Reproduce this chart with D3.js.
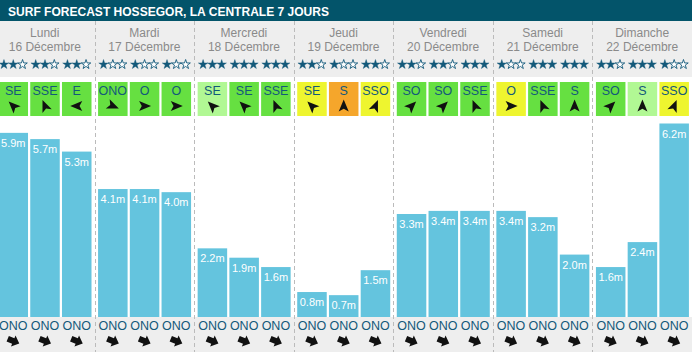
<!DOCTYPE html>
<html>
<head>
<meta charset="utf-8">
<script src="https://cdn.jsdelivr.net/npm/d3@7"></script>
<style>
  body { margin: 0; background: #fff; }
  svg { display: block; font-family: "Liberation Sans", Arial, sans-serif; }
</style>
</head>
<body>
<svg id="surf"></svg>
<script>
const title = "SURF FORECAST HOSSEGOR, LA CENTRALE 7 JOURS";
const days = ["Lundi", "Mardi", "Mercredi", "Jeudi", "Vendredi", "Samedi", "Dimanche"];
const dates = ["16 Décembre", "17 Décembre", "18 Décembre", "19 Décembre", "20 Décembre", "21 Décembre", "22 Décembre"];
// 3 slots per day
const waveHeights = [5.9, 5.7, 5.3, 4.1, 4.1, 4.0, 2.2, 1.9, 1.6, 0.8, 0.7, 1.5, 3.3, 3.4, 3.4, 3.4, 3.2, 2.0, 1.6, 2.4, 6.2];
const stars = [2, 2, 2, 1, 1, 1, 3, 3, 3, 2, 1, 2, 2, 2, 3, 1, 3, 3, 2, 3, 1];
const windDirs = ["SE", "SSE", "E", "ONO", "O", "O", "SE", "SE", "SSE", "SE", "S", "SSO", "SO", "SO", "SSE", "O", "SSE", "S", "SO", "S", "SSO"];
const windRating = ["good", "good", "good", "good", "good", "good", "light", "good", "good", "fair", "bad", "fair", "good", "good", "good", "fair", "good", "good", "good", "light", "fair"];
const swellDirs = ["ONO", "ONO", "ONO", "ONO", "ONO", "ONO", "ONO", "ONO", "ONO", "ONO", "ONO", "ONO", "ONO", "ONO", "ONO", "ONO", "ONO", "ONO", "ONO", "ONO", "ONO"];

const width = 692, height = 352;
const compass = { N: 0, NNE: 22.5, NE: 45, ENE: 67.5, E: 90, ESE: 112.5, SE: 135, SSE: 157.5,
  S: 180, SSO: 202.5, SO: 225, OSO: 247.5, O: 270, ONO: 292.5, NO: 315, NNO: 337.5 };
const teal = "#13597a";

let svg = d3.select("#surf").attr("width", width).attr("height", height);

let x = d3.scaleBand().domain(days).range([-5, 692]);
let slot = d3.scaleBand().domain([0, 1, 2]).range([3.5, 96.5]).paddingInner(0.07);
let y = d3.scaleLinear().domain([0, 6.2]).range([317, 123.5]);
let windColor = d3.scaleOrdinal()
  .domain(["good", "light", "fair", "bad"])
  .range(["#66e041", "#b1f894", "#eef52f", "#f5a62b"]);

let data = waveHeights.map((h, i) => ({
  day: days[Math.floor(i / 3)],
  k: i % 3,
  h: h,
  stars: stars[i],
  wind: windDirs[i],
  rating: windRating[i],
  swell: swellDirs[i]
}));
const cx = (d) => x(d.day) + slot(d.k);
const mid = (d) => cx(d) + slot.bandwidth() / 2;

// backgrounds
svg.append("rect").attr("x", 0).attr("y", 21).attr("width", width).attr("height", 56).attr("fill", "#eeeeee");
svg.append("rect").attr("x", 0).attr("y", 317).attr("width", width).attr("height", 35).attr("fill", "#eeeeee");

// title band
svg.append("rect").attr("width", width).attr("height", 21).attr("fill", "#03546a");
svg.append("text").attr("x", 8).attr("y", 15.5)
  .attr("fill", "white").attr("font-weight", "bold").attr("font-size", "13px")
  .attr("textLength", 321).attr("lengthAdjust", "spacingAndGlyphs")
  .text(title);

// dividers
svg.selectAll(".divider")
  .data(days.slice(1))
  .enter()
  .append("line")
  .attr("x1", (d) => Math.round(x(d)) + 0.5)
  .attr("x2", (d) => Math.round(x(d)) + 0.5)
  .attr("y1", 21).attr("y2", height)
  .attr("stroke", "#bbbbbb").attr("stroke-dasharray", "4,3");

// day headers
let head = svg.selectAll(".head").data(days).enter().append("g")
  .attr("transform", (d) => "translate(" + (x(d) + x.bandwidth() / 2) + ",0)");
head.append("text").attr("y", 37).attr("text-anchor", "middle")
  .attr("fill", "#8a8a8a").attr("font-size", "12px").text((d) => d);
head.append("text").attr("y", 50.5).attr("text-anchor", "middle")
  .attr("fill", "#8a8a8a").attr("font-size", "12px").text((d, i) => dates[i]);

// stars
let star = d3.symbol(d3.symbolStar).size(28);
let slots = svg.selectAll(".slot").data(data).enter().append("g")
  .attr("class", "slot");
slots.each(function (d) {
  let g = d3.select(this);
  for (let s = 0; s < 3; s++) {
    g.append("path")
      .attr("d", star())
      .attr("transform", "translate(" + (mid(d) + (s - 1) * 9.3) + ",64.5)")
      .attr("fill", s < d.stars ? teal : "white")
      .attr("stroke", teal)
      .attr("stroke-width", s < d.stars ? 0.4 : 0.9);
  }
});

// wind boxes
slots.append("rect")
  .attr("x", (d) => cx(d)).attr("y", 82)
  .attr("width", slot.bandwidth()).attr("height", 34)
  .attr("fill", (d) => windColor(d.rating));
slots.append("text")
  .attr("x", mid).attr("y", 94.5)
  .attr("text-anchor", "middle").attr("fill", teal).attr("font-size", "12.5px")
  .text((d) => d.wind);
slots.append("path")
  .attr("d", "M0,-6.5L5,5.5L0,2.8L-5,5.5Z")
  .attr("fill", "#111")
  .attr("transform", (d) => "translate(" + mid(d) + ",106) rotate(" + (compass[d.wind] + 180) + ")");

// bars
slots.append("rect")
  .attr("x", (d) => cx(d)).attr("y", (d) => y(d.h))
  .attr("width", slot.bandwidth()).attr("height", (d) => y(0) - y(d.h))
  .attr("fill", "#64c4de");
slots.append("text")
  .attr("x", mid).attr("y", (d) => y(d.h) + 14)
  .attr("text-anchor", "middle").attr("fill", "white").attr("font-size", "11px")
  .text((d) => d3.format(".1f")(d.h) + "m");

// swell direction
slots.append("text")
  .attr("x", mid).attr("y", 330)
  .attr("text-anchor", "middle").attr("fill", teal).attr("font-size", "12.5px")
  .text((d) => d.swell);
slots.append("path")
  .attr("d", "M-6,-3L0,-3L0,-6L6.5,0L0,6L0,3L-6,3Z")
  .attr("fill", "#111")
  .attr("transform", (d) => "translate(" + mid(d) + ",341) rotate(" + (compass[d.swell] + 180 - 90) + ")");
</script>
</body>
</html>
